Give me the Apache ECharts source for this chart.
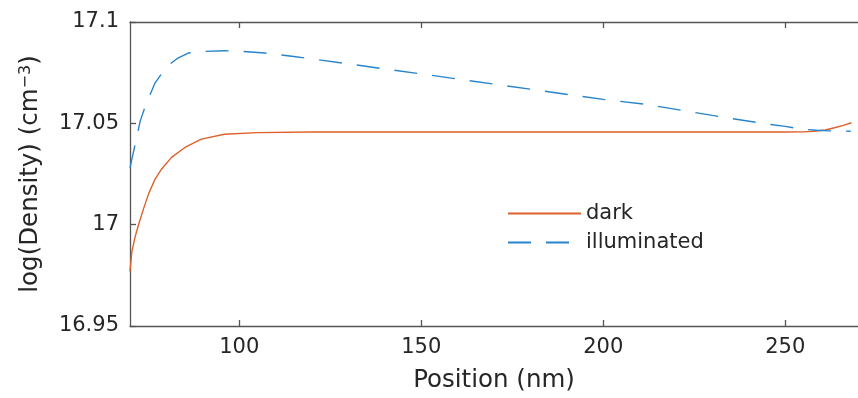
<!DOCTYPE html>
<html>
<head>
<meta charset="utf-8">
<script src="https://cdn.jsdelivr.net/npm/echarts@6/dist/echarts.min.js"></script>
<style>
  html, body { margin: 0; padding: 0; background: #fff; }
  #chart { width: 858px; height: 398px; }
</style>
</head>
<body>
<div id="chart"></div>
<script>
// values
const darkPos = [70, 70.5, 71.4, 72.3, 73.7, 75.1, 76.9, 78.7, 81.4, 85.1, 89.6, 95.9, 105, 120, 150, 200, 250, 255, 258, 261, 263.5, 266, 268.2];
const darkVal = [16.977, 16.9866, 16.994, 16.9997, 17.0078, 17.0152, 17.0225, 17.0275, 17.0332, 17.0381, 17.0422, 17.0446, 17.0454, 17.0457, 17.0457, 17.0457, 17.0457, 17.0458, 17.0461, 17.0467, 17.0478, 17.049, 17.0503];

const illumPos = [70, 72.8, 74.2, 76.9, 80.1, 83, 86, 90.5, 96, 101, 107, 115, 150, 200, 212, 230, 244, 250, 254.6, 258.7, 262, 268];
const illumVal = [17.028, 17.0511, 17.0585, 17.070, 17.078, 17.082, 17.0847, 17.0855, 17.0858, 17.0855, 17.0847, 17.083, 17.0744, 17.0618, 17.0593, 17.0539, 17.0499, 17.0485, 17.0471, 17.0466, 17.0463, 17.0461];

const xTicks = [100, 150, 200, 250];
const yTicks = [16.95, 17, 17.05, 17.1];
const yTickLabels = ['16.95', '17', '17.05', '17.1'];

const font = 'DejaVu Sans';
const ink = '#262626';
const axisCol = '#555555';

const zip = (xs, ys) => xs.map((x, i) => [x, ys[i]]);

const chart = echarts.init(document.getElementById('chart'));

const option = {
  animation: false,
  grid: { left: 130, top: 22, bottom: 70, right: -7 },
  legend: {
    left: 507,
    top: 203,
    padding: 0,
    orient: 'vertical',
    itemWidth: 73,
    itemHeight: 20,
    itemGap: 8,
    itemStyle: { opacity: 0 },
    textStyle: { fontFamily: font, fontSize: 21, color: ink },
    data: ['dark', 'illuminated']
  },
  xAxis: [
    {
      type: 'value',
      min: 70,
      max: 270,
      name: 'Position (nm)',
      nameLocation: 'middle',
      nameGap: 42,
      nameTextStyle: { fontFamily: font, fontSize: 24.5, color: ink },
      axisLine: { show: true, lineStyle: { color: axisCol, width: 1.3 } },
      axisTick: { show: true, inside: true, length: 6, customValues: xTicks, lineStyle: { color: axisCol, width: 1.3 } },
      axisLabel: { customValues: xTicks, margin: 11, fontFamily: font, fontSize: 21, color: ink },
      splitLine: { show: false }
    },
    {
      type: 'value',
      position: 'top',
      min: 70,
      max: 270,
      axisLine: { show: true, lineStyle: { color: axisCol, width: 1.3 } },
      axisTick: { show: true, inside: true, length: 6, customValues: xTicks, lineStyle: { color: axisCol, width: 1.3 } },
      axisLabel: { show: false },
      splitLine: { show: false }
    }
  ],
  yAxis: {
    type: 'value',
    min: 16.95,
    max: 17.1,
    name: '{a|log(Density) (cm}{s|−3}{a|)}',
    nameLocation: 'middle',
    nameGap: 86,
    nameTextStyle: {
      rich: {
        a: { fontFamily: font, fontSize: 24.5, color: ink },
        s: { fontFamily: font, fontSize: 16, color: ink, verticalAlign: 'top', padding: [0, 0, 10, 0] }
      }
    },
    axisLine: { show: true, lineStyle: { color: axisCol, width: 1.3 } },
    axisTick: { show: true, inside: true, length: 6, customValues: yTicks, lineStyle: { color: axisCol, width: 1.3 } },
    axisLabel: {
      customValues: yTicks,
      margin: 11,
      fontFamily: font,
      fontSize: 21,
      color: ink,
      formatter: v => yTickLabels[yTicks.findIndex(t => Math.abs(t - v) < 1e-9)]
    },
    splitLine: { show: false }
  },
  series: [
    {
      name: 'dark',
      type: 'line',
      data: zip(darkPos, darkVal),
      showSymbol: false,
      symbol: 'none',
      lineStyle: { color: '#E0602A', width: 1.4 },
      itemStyle: { color: '#E0602A' }
    },
    {
      name: 'illuminated',
      type: 'line',
      data: zip(illumPos, illumVal),
      showSymbol: false,
      symbol: 'none',
      lineStyle: { color: '#2784CC', width: 1.4, type: [23, 15] },
      itemStyle: { color: '#2784CC' }
    }
  ]
};

chart.setOption(option);
</script>
</body>
</html>
